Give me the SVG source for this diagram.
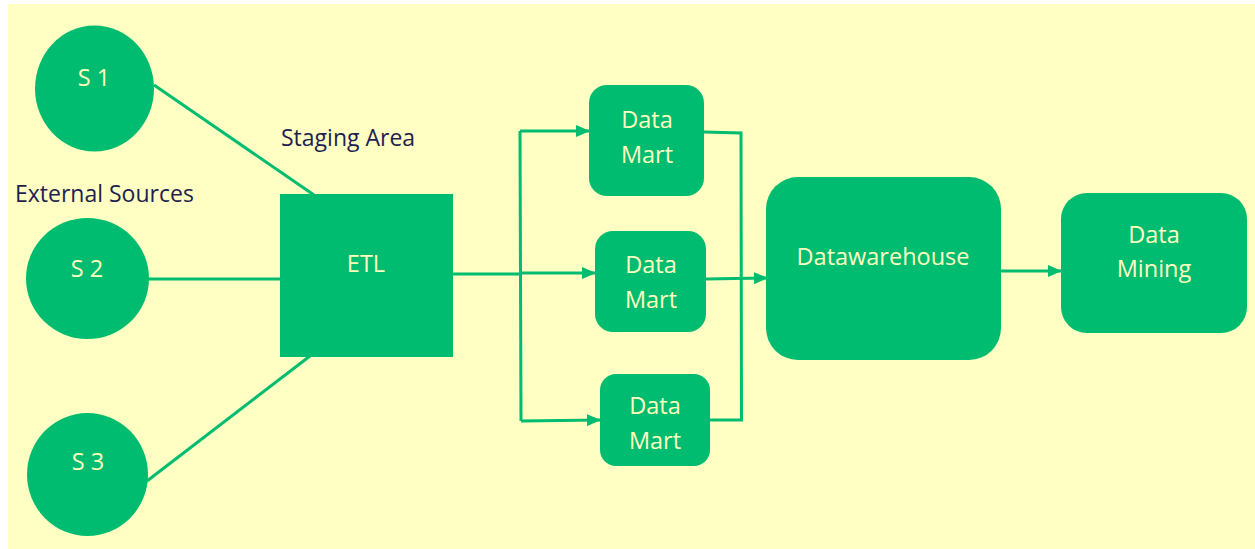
<svg xmlns="http://www.w3.org/2000/svg" width="1255" height="549" viewBox="0 0 1255 549">
<defs>
<style>
.node{fill:#00BC70}
.lbl{font-family:"Open Sans","Noto Sans",sans-serif;font-size:23.5px;fill:#FFFFC0;text-anchor:middle}
.cap{font-family:"Open Sans","Noto Sans",sans-serif;font-size:23px;fill:#1E1E50}
.ln{stroke:#00BC70;stroke-width:3;fill:none}
</style>
<marker id="ah" markerWidth="14" markerHeight="12" refX="13" refY="6" orient="auto" markerUnits="userSpaceOnUse">
<path d="M0,0 L14,6 L0,12 Z" fill="#00BC70"/>
</marker>
</defs>
<rect x="0" y="0" width="1255" height="549" fill="#ffffff"/>
<rect x="8" y="4" width="1247" height="545" fill="#FFFFC3"/>
<g id="connectors">
<line class="ln" x1="154" y1="85" x2="314" y2="195"/>
<line class="ln" x1="148" y1="279" x2="281" y2="279"/>
<line class="ln" x1="147" y1="481" x2="310" y2="356"/>
<polyline class="ln" points="452,274 520,274"/>
<line class="ln" x1="520" y1="131" x2="521" y2="421"/>
<line class="ln" x1="520" y1="131" x2="589" y2="131" marker-end="url(#ah)"/>
<line class="ln" x1="520" y1="273" x2="595" y2="273" marker-end="url(#ah)"/>
<line class="ln" x1="521" y1="421" x2="600" y2="420" marker-end="url(#ah)"/>
<polyline class="ln" points="704,132 741,133 741.5,420 710,420"/>
<line class="ln" x1="706" y1="279" x2="767" y2="278" marker-end="url(#ah)"/>
<line class="ln" x1="1001" y1="271" x2="1061" y2="271" marker-end="url(#ah)"/>
</g>
<g id="s1"><ellipse class="node" cx="94.5" cy="88.5" rx="59.5" ry="63"/><text class="lbl" x="94" y="86" font-size="21">S 1</text></g>
<g id="s2"><ellipse class="node" cx="87.5" cy="278.5" rx="61.5" ry="60.5"/><text class="lbl" x="87" y="277" font-size="21">S 2</text></g>
<g id="s3"><ellipse class="node" cx="87.5" cy="474.5" rx="60.5" ry="61.5"/><text class="lbl" x="88" y="470" font-size="21">S 3</text></g>
<g id="etl"><rect class="node" x="280" y="194" width="173" height="163"/><text class="lbl" x="366" y="272">ETL</text></g>
<g id="dm1"><rect class="node" x="589" y="85" width="115" height="111" rx="18"/><text class="lbl" x="647" y="128">Data</text><text class="lbl" x="647" y="163">Mart</text></g>
<g id="dm2"><rect class="node" x="595" y="231" width="111" height="101" rx="18"/><text class="lbl" x="651" y="273">Data</text><text class="lbl" x="651" y="308">Mart</text></g>
<g id="dm3"><rect class="node" x="600" y="374" width="110" height="92" rx="16"/><text class="lbl" x="655" y="414">Data</text><text class="lbl" x="655" y="449">Mart</text></g>
<g id="dw"><rect class="node" x="766" y="177" width="235" height="183" rx="32"/><text class="lbl" x="883" y="265">Datawarehouse</text></g>
<g id="mining"><rect class="node" x="1061" y="193" width="186" height="140" rx="26"/><text class="lbl" x="1154" y="243">Data</text><text class="lbl" x="1154" y="277">Mining</text></g>
<g id="labels">
<text class="cap" x="281" y="146">Staging Area</text>
<text class="cap" x="15" y="202">External Sources</text>
</g>
</svg>
